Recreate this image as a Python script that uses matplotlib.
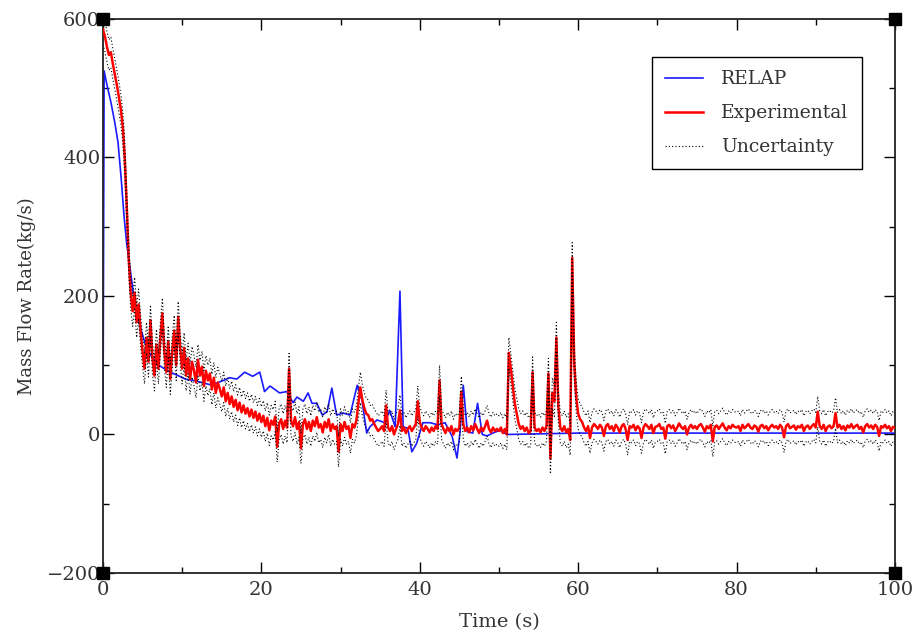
import numpy as np
import matplotlib
matplotlib.use("Agg")
import matplotlib.pyplot as plt
from matplotlib.ticker import MultipleLocator

# RELAP calculation (time s, mass flow kg/s)
relap_time = [0.0, 0.15, 0.5, 1.0, 1.5, 1.9, 2.3, 2.65, 3.0, 3.4, 4.0, 4.6, 5.3, 6.0, 6.8,
              7.6, 8.5, 9.5, 10.4, 11.5, 12.5, 13.5, 14.3, 15.2, 16.0, 16.9, 17.9, 18.9,
              19.8, 20.4, 21.1, 22.3, 23.2, 24.0, 24.5, 25.3, 25.9, 26.4, 27.0, 27.7, 28.3,
              28.9, 29.5, 30.3, 31.2, 32.1, 32.7, 33.3, 33.7, 34.6, 35.6, 36.2, 36.9, 37.5,
              37.9, 38.5, 39.0, 39.6, 40.4, 41.3, 42.3, 43.2, 44.1, 44.7, 45.1, 45.5, 46.0,
              46.7, 47.3, 47.9, 48.5, 49.2, 50.1, 51.0, 60.0, 80.0, 100.0]
relap_flow = [0, 525, 505, 480, 450, 422, 370, 317, 275, 242, 190, 160, 132, 115, 102,
              96, 90, 85, 80, 78, 75, 72, 74, 78, 82, 80, 90, 84,
              90, 62, 70, 60, 62, 46, 54, 48, 60, 45, 45, 28, 33,
              67, 28, 31, 28, 71, 50, 2, 11, 21, 17, 35, 11, 207,
              11, 9, -25, -13, 17, 17, 14, 17, -3, -34, 5, 71, 4,
              2, 45, 0, -2, 2, 6, 0, 2, 2, 2]

# experimental data, sampled every 0.25 s (one row = 5 s)
exp_dt = 0.25
exp_flow = [
    585, 575, 560, 548, 552, 535, 520, 505, 488, 470, 445, 400, 330, 255, 205, 178, 205, 162, 188, 150,
    120, 95, 140, 105, 165, 110, 85, 130, 95, 140, 175, 120, 90, 135, 80, 120, 150, 100, 170, 125,
    95, 125, 85, 110, 80, 105, 92, 75, 108, 85, 98, 70, 92, 78, 88, 65, 82, 60, 75, 66,
    55, 68, 48, 60, 44, 55, 40, 50, 35, 46, 32, 42, 30, 38, 26, 36, 24, 33, 20, 30,
    18, 27, 12, 24, 6, 20, 14, 26, -18, 16, 22, 8, 20, 10, 95, 20, 12, 25, 8, 18,
    -20, 15, 22, 8, 18, 5, 20, 12, 25, 10, 15, 3, 18, 10, 22, 5, 15, 8, 12, -25,
    15, 5, 18, 8, 12, -5, 15, 10, 20, 45, 68, 50, 38, 30, 28, 20, 22, 15, 10, 5,
    8, 12, 5, 42, 10, 5, 12, 0, 8, 15, 35, 5, 10, 2, 8, 12, 5, 10, 15, 48,
    18, 10, 5, 12, 8, 3, 10, 5, 12, 8, 78, 15, 8, 2, 10, 5, 12, 0, 8, 5,
    10, 62, 15, 5, 10, 3, 12, 6, 15, 8, 2, 10, 5, 12, 20, 8, 3, 10, 5, 8,
    5, 10, 2, 8, 0, 118, 95, 70, 45, 30, 15, 8, 12, 5, 10, 2, 5, 90, 10, 5,
    8, 3, 10, 5, 12, 88, -35, 60, 48, 140, 40, 10, 5, 12, 3, 8, -8, 255, 105, 55,
    30, 22, 18, 10, 5, 12, -5, 10, 15, 12, 8, 14, 10, -2, 12, 15, 8, 12, 5, 14,
    10, 3, 12, 15, 8, -8, 12, 10, 14, 6, 12, 9, -5, 10, 15, 12, 8, 14, 2, 11,
    12, 15, 8, 10, -6, 12, 14, 9, 13, 5, 10, 16, 11, 8, 12, 0, 10, 14, 9, 12,
    8, 13, 15, 10, 4, 12, 9, 14, -10, 11, 13, 8, 12, 16, 10, 6, 12, 9, 14, 11,
    10, 12, 5, 14, 9, 12, 15, 10, 8, 13, 11, 4, 12, 14, 9, 12, 6, 11, 14, 10,
    12, 8, 14, 10, -4, 12, 15, 9, 11, 13, 7, 12, 10, 14, 5, 11, 13, 8, 12, 15,
    10, 33, 12, 8, 14, 5, 11, 13, 9, 12, 31, 10, 14, 8, 12, 6, 13, 10, 15, 9,
    12, 14, 8, 11, 3, 12, 15, 10, 13, 8, 14, 11, -2, 12, 10, 14, 9, 12, 5, 11,
    10,
]
# measurement uncertainty (kg/s)
uncertainty = 22.0

exp_flow = np.array(exp_flow, dtype=float)
exp_time = np.arange(len(exp_flow)) * exp_dt

txt_color = "#333333"
plt.rcParams["font.family"] = ["DejaVu Serif"]

fig = plt.figure(figsize=(9.16, 6.41), dpi=100)
ax = fig.add_axes([0.1124, 0.1061, 0.8646, 0.8643])

ax.plot(relap_time, relap_flow, color="#1a1aff", lw=1.2, label="RELAP", zorder=2)
ax.plot(exp_time, exp_flow, color="red", lw=1.8, label="Experimental", zorder=3)
ax.plot(exp_time, exp_flow + uncertainty, color="black", lw=0.8, ls=(0, (1, 2)),
        label="Uncertainty", zorder=4)
ax.plot(exp_time, exp_flow - uncertainty, color="black", lw=0.8, ls=(0, (1, 2)), zorder=4)

ax.set_xlim(0, 100)
ax.set_ylim(-200, 600)
ax.xaxis.set_major_locator(MultipleLocator(20))
ax.xaxis.set_minor_locator(MultipleLocator(10))
ax.yaxis.set_major_locator(MultipleLocator(200))
ax.yaxis.set_minor_locator(MultipleLocator(100))
ax.tick_params(which="both", direction="in", top=True, right=True, width=1.0,
               colors="black", labelcolor=txt_color)
ax.tick_params(which="major", length=8, labelsize=14)
ax.tick_params(which="minor", length=4.5)
ax.tick_params(axis="x", pad=6)
ax.tick_params(axis="y", pad=2)
for sp in ax.spines.values():
    sp.set_linewidth(1.3)
    sp.set_color("#222222")

ax.set_xlabel("Time (s)", fontsize=14, color=txt_color, labelpad=10)
ax.set_ylabel("Mass Flow Rate(kg/s)", fontsize=13, color=txt_color, labelpad=8)

# black squares at the corners of the frame
ax.plot([0, 1, 0, 1], [0, 0, 1, 1], "s", color="black", markersize=8.5,
        transform=ax.transAxes, clip_on=False, zorder=10)

leg = ax.legend(loc="upper right", bbox_to_anchor=(0.958, 0.931), borderaxespad=0,
                fancybox=False, edgecolor="black", fontsize=13.5, handlelength=2.0,
                labelspacing=0.85, borderpad=0.7, handletextpad=1.0, framealpha=1)
leg.get_frame().set_linewidth(1.0)
for t in leg.get_texts():
    t.set_color(txt_color)

fig.savefig("out.png", dpi=100)
